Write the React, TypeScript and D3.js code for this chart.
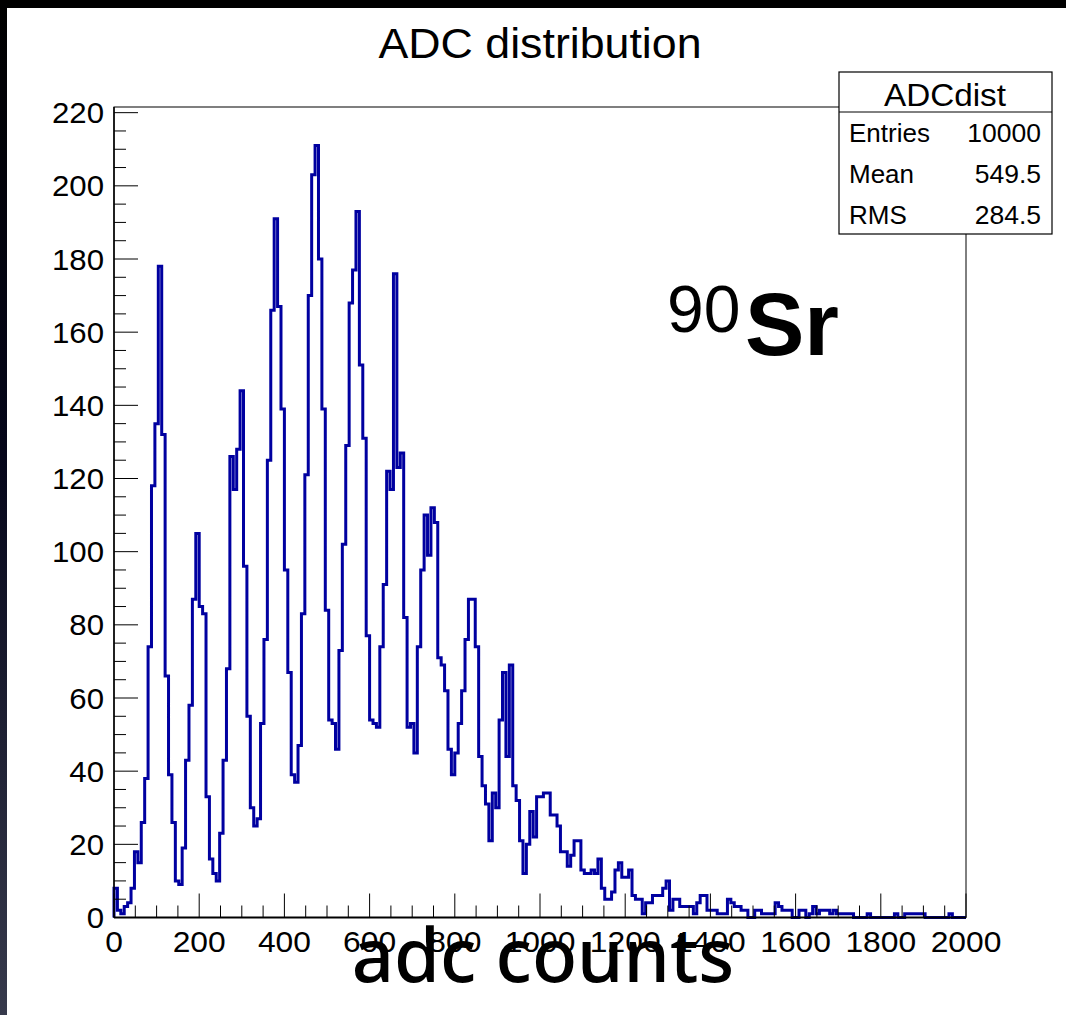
import * as d3 from 'd3';

// ADC histogram, 250 bins of 8 counts from 0 to 2000
const binWidth = 8;
const countsA = [8, 2, 1, 3, 4, 8, 18, 15, 26, 38, 74, 118, 135, 178, 132, 66, 39, 26, 10, 9, 19, 43, 58, 87, 105, 85, 83, 33, 16, 12, 10, 23, 43, 68, 126, 117, 128, 144, 96, 55, 30, 25, 27, 53, 76, 125, 166, 191, 167, 139];
const countsB = [95, 67, 39, 37, 47, 83, 121, 170, 203, 211, 180, 139, 84, 54, 53, 46, 73, 102, 129, 168, 177, 193, 151, 131, 77, 54, 53, 52, 74, 91, 122, 117, 176, 123, 127, 82, 52, 53, 45, 74, 95, 110, 99, 112, 108, 71, 69, 62, 46, 39];
const countsC = [45, 53, 62, 76, 87, 87, 74, 44, 36, 31, 21, 34, 30, 54, 67, 44, 69, 36, 32, 21, 12, 20, 29, 22, 33, 33, 34, 34, 28, 28, 25, 18, 18, 14, 17, 21, 21, 13, 12, 12, 13, 12, 16, 8, 5, 5, 7, 13, 15, 11];
const countsD = [11, 13, 6, 5, 5, 1, 4, 4, 6, 6, 6, 8, 10, 2, 5, 5, 3, 3, 3, 3, 1, 4, 6, 6, 2, 2, 2, 1, 1, 1, 5, 4, 3, 3, 2, 2, 0, 0, 2, 2, 1, 1, 1, 1, 4, 3, 2, 2, 2, 0];
const countsE = [0, 2, 2, 0, 1, 3, 1, 2, 2, 2, 1, 2, 1, 1, 1, 1, 1, 0, 0, 0, 0, 1, 0, 0, 0, 0, 0, 0, 0, 1, 0, 0, 1, 1, 1, 1, 1, 1, 0, 0, 0, 0, 0, 0, 0, 1, 0, 0, 0, 0];

const xTickValues = [0, 200, 400, 600, 800, 1000, 1200, 1400, 1600, 1800, 2000];
const yTickValues = [0, 20, 40, 60, 80, 100, 120, 140, 160, 180, 200, 220];
const statsRows = [
  ['Entries', '10000'],
  ['Mean', '549.5'],
  ['RMS', '284.5'],
];

const W = 1066;
const H = 1015;
const rootFont = '"Liberation Sans", Arial, Helvetica, sans-serif';

export default function App() {
  const counts = [...countsA, ...countsB, ...countsC, ...countsD, ...countsE];

  const x = d3.scaleLinear().domain([0, 2000]).range([114, 966]);
  const y = d3.scaleLinear().domain([0, 211 * 1.05]).range([917.5, 107]);

  const pts: [number, number][] = [[0, 0]];
  counts.forEach((c, i) => pts.push([i * binWidth, c]));
  pts.push([counts.length * binWidth, counts[counts.length - 1]]);
  pts.push([counts.length * binWidth, 0]);

  const line = d3.line<[number, number]>()
    .x(d => x(d[0]))
    .y(d => y(d[1]))
    .curve(d3.curveStepAfter);

  const yMinor = d3.range(0, 221.55, 5).filter(v => v % 20 !== 0);
  const xMinor = d3.range(0, 2001, 50).filter(v => v % 200 !== 0);

  const [x0, x1] = x.range();
  const [y0, y1] = y.range();

  return (
    <svg width={W} height={H} style={{ position: 'absolute', left: 0, top: 0, background: '#fff' }}>
      <defs>
        <linearGradient id="edge" x1="0" y1="0" x2="0" y2="1">
          <stop offset="0%" stopColor="#000" />
          <stop offset="45%" stopColor="#05061a" />
          <stop offset="100%" stopColor="#373a4c" />
        </linearGradient>
      </defs>
      <rect x={0} y={0} width={W} height={H} fill="#fff" />
      <rect x={0} y={0} width={W} height={8} fill="#000" />
      <rect x={0} y={0} width={7} height={H} fill="url(#edge)" />

      {/* title */}
      <text transform={`translate(540,58) scale(1.04,1)`} textAnchor="middle"
        fontFamily={rootFont} fontSize={43}>ADC distribution</text>

      {/* frame */}
      <rect x={x0} y={y1} width={x1 - x0} height={y0 - y1} fill="none" stroke="#000" strokeWidth={1} />

      {/* histogram */}
      <path d={line(pts) ?? ''} fill="none" stroke="#0000a0" strokeWidth={3} />

      {/* y axis */}
      <line x1={x0} x2={x0} y1={y0} y2={y1} stroke="#000" strokeWidth={1.5} />
      {yTickValues.map(v => (
        <g key={'y' + v}>
          <line x1={x0} x2={x0 + 24} y1={y(v)} y2={y(v)} stroke="#000" strokeWidth={1} />
          <text transform={`translate(104,${y(v) + 10.5}) scale(1.04,1)`} textAnchor="end"
            fontFamily={rootFont} fontSize={30}>{v}</text>
        </g>
      ))}
      {yMinor.map(v => (
        <line key={'ym' + v} x1={x0} x2={x0 + 12} y1={y(v)} y2={y(v)} stroke="#000" strokeWidth={1} />
      ))}

      {/* x axis */}
      <line x1={x0} x2={x1} y1={y0} y2={y0} stroke="#000" strokeWidth={2} />
      {xTickValues.map(v => (
        <g key={'x' + v}>
          <line x1={x(v)} x2={x(v)} y1={y0} y2={y0 - 24} stroke="#000" strokeWidth={1} />
          <text transform={`translate(${x(v)},952) scale(1.06,1)`} textAnchor="middle"
            fontFamily={rootFont} fontSize={30}>{v}</text>
        </g>
      ))}
      {xMinor.map(v => (
        <line key={'xm' + v} x1={x(v)} x2={x(v)} y1={y0} y2={y0 - 12} stroke="#000" strokeWidth={1} />
      ))}

      {/* stats box */}
      <rect x={839} y={72} width={213} height={162} fill="#fff" stroke="#000" strokeWidth={1.2} />
      <line x1={839} x2={1052} y1={112} y2={112} stroke="#000" strokeWidth={1} />
      <text transform="translate(945,106) scale(1.04,1)" textAnchor="middle"
        fontFamily={rootFont} fontSize={32}>ADCdist</text>
      {statsRows.map(([k, v], i) => (
        <g key={k}>
          <text transform={`translate(849,${142 + i * 41})`}
            fontFamily={rootFont} fontSize={26}>{k}</text>
          <text transform={`translate(1041,${142 + i * 41}) scale(1.02,1)`} textAnchor="end"
            fontFamily={rootFont} fontSize={26}>{v}</text>
        </g>
      ))}

      {/* isotope label */}
      <text x={667} y={332} fontFamily={rootFont} fontSize={66}>90</text>
      <text x={745} y={355} fontFamily={rootFont} fontSize={89} fontWeight="bold">Sr</text>

      {/* axis title overlay */}
      <text x={543} y={982} textAnchor="middle" fontFamily='"Noto Sans", sans-serif'
        fontSize={74} fontWeight={500}>adc counts</text>
    </svg>
  );
}
